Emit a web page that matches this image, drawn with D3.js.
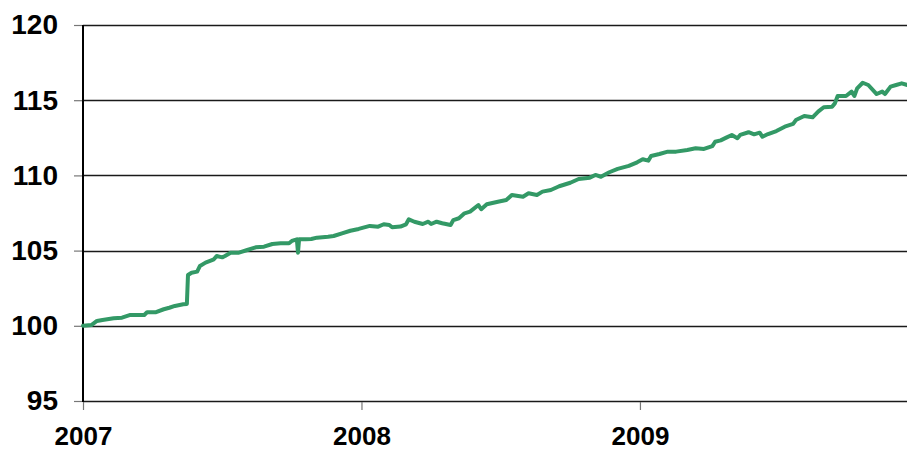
<!DOCTYPE html>
<html>
<head>
<meta charset="utf-8">
<script src="https://cdn.jsdelivr.net/npm/d3@7"></script>
<style>
  body { margin: 0; background: #fff; }
  svg { display: block; font-family: "Liberation Sans", Arial, sans-serif; }
</style>
</head>
<body>
<svg width="907" height="452"></svg>
<script>
// values (fractional year, index level)
var years = [
  2007.00, 2007.03, 2007.05, 2007.07, 2007.11, 2007.14, 2007.17, 2007.22, 2007.23, 2007.26,
  2007.29, 2007.31, 2007.33, 2007.36, 2007.373, 2007.377, 2007.39, 2007.41, 2007.42, 2007.44,
  2007.47, 2007.48, 2007.50, 2007.51, 2007.53, 2007.56, 2007.59, 2007.62, 2007.65, 2007.68,
  2007.71, 2007.74, 2007.75, 2007.768, 2007.772, 2007.776, 2007.80, 2007.82, 2007.84, 2007.88,
  2007.90, 2007.93, 2007.96, 2007.99, 2008.03, 2008.06, 2008.08, 2008.10, 2008.11, 2008.14,
  2008.16, 2008.17, 2008.19, 2008.22, 2008.24, 2008.25, 2008.27, 2008.29, 2008.32, 2008.33,
  2008.35, 2008.37, 2008.39, 2008.42, 2008.43, 2008.45, 2008.49, 2008.52, 2008.54, 2008.58,
  2008.60, 2008.63, 2008.65, 2008.68, 2008.71, 2008.75, 2008.78, 2008.82, 2008.84, 2008.86,
  2008.89, 2008.92, 2008.96, 2008.99, 2009.01, 2009.03, 2009.04, 2009.07, 2009.10, 2009.13,
  2009.17, 2009.20, 2009.23, 2009.26, 2009.27, 2009.29, 2009.31, 2009.33, 2009.35, 2009.36,
  2009.39, 2009.41, 2009.43, 2009.44, 2009.46, 2009.49, 2009.52, 2009.55, 2009.56, 2009.59,
  2009.62, 2009.64, 2009.66, 2009.69, 2009.70, 2009.71, 2009.74, 2009.76, 2009.77, 2009.78,
  2009.80, 2009.82, 2009.85, 2009.87, 2009.88, 2009.90, 2009.92, 2009.94, 2009.96
];
var levels = [
  100.00, 100.05, 100.32, 100.39, 100.50, 100.54, 100.72, 100.72, 100.90, 100.90,
  101.10, 101.20, 101.32, 101.43, 101.45, 103.38, 103.53, 103.60, 103.98, 104.20,
  104.42, 104.64, 104.55, 104.64, 104.86, 104.86, 105.04, 105.22, 105.26, 105.44,
  105.49, 105.49, 105.64, 105.75, 104.86, 105.75, 105.75, 105.77, 105.86, 105.92,
  105.97, 106.15, 106.32, 106.44, 106.64, 106.59, 106.75, 106.70, 106.55, 106.60,
  106.75, 107.08, 106.92, 106.77, 106.92, 106.77, 106.92, 106.82, 106.70, 107.03,
  107.15, 107.48, 107.59, 108.03, 107.75, 108.08, 108.25, 108.36, 108.70, 108.58,
  108.81, 108.70, 108.92, 109.03, 109.28, 109.51, 109.76, 109.85, 110.03, 109.91,
  110.21, 110.43, 110.63, 110.87, 111.07, 110.98, 111.29, 111.42, 111.58, 111.58,
  111.69, 111.80, 111.76, 111.95, 112.24, 112.33, 112.51, 112.69, 112.47, 112.69,
  112.87, 112.73, 112.84, 112.57, 112.75, 112.95, 113.24, 113.42, 113.68, 113.95,
  113.86, 114.24, 114.53, 114.57, 114.79, 115.28, 115.28, 115.57, 115.28, 115.79,
  116.16, 116.01, 115.41, 115.57, 115.41, 115.90, 116.01, 116.12, 116.01
];
var yTicks = [95, 100, 105, 110, 115, 120];
var xTicks = [2007, 2008, 2009];
var xEnd = 2009.959;

var svg = d3.select("svg"),
    plotLeft = 83, plotRight = 907, plotTop = 25, plotBottom = 401;

var x = d3.scaleLinear().domain([2007, xEnd]).range([plotLeft, plotRight]);
var y = d3.scaleLinear().domain([95, 120]).range([plotBottom, plotTop]);

var data = years.map(function (d, i) { return { t: d, v: levels[i] }; });

// horizontal gridlines
svg.append("g")
    .selectAll("line")
    .data(yTicks)
    .enter()
    .append("line")
    .attr("x1", plotLeft)
    .attr("x2", plotRight)
    .attr("y1", function (d) { return Math.round(y(d)) + 0.5; })
    .attr("y2", function (d) { return Math.round(y(d)) + 0.5; })
    .attr("stroke", "#1a1a1a")
    .attr("stroke-width", 1.3);

// y axis
var yAxis = svg.append("g")
    .attr("transform", "translate(" + plotLeft + ",0)")
    .call(d3.axisLeft(y).tickValues(yTicks).tickSize(9).tickPadding(16));
yAxis.select(".domain").remove();
yAxis.selectAll(".tick line").attr("stroke", "#777").attr("stroke-width", 1.2);
yAxis.selectAll(".tick text")
    .attr("font-size", 28)
    .attr("font-weight", "bold")
    .attr("fill", "#000")
    .attr("font-family", "Liberation Sans, Arial, sans-serif");
svg.append("line")
    .attr("x1", plotLeft).attr("x2", plotLeft)
    .attr("y1", plotTop).attr("y2", plotBottom + 1)
    .attr("stroke", "#000")
    .attr("stroke-width", 2);

// x axis
var xAxis = svg.append("g")
    .attr("transform", "translate(0," + (plotBottom + 1) + ")")
    .call(d3.axisBottom(x).tickValues(xTicks).tickFormat(d3.format("d")).tickSize(8).tickPadding(17));
xAxis.select(".domain").remove();
xAxis.selectAll(".tick line").attr("stroke", "#777").attr("stroke-width", 1.2);
xAxis.selectAll(".tick text")
    .attr("font-size", 26)
    .attr("font-weight", "bold")
    .attr("fill", "#000")
    .attr("font-family", "Liberation Sans, Arial, sans-serif");

// the series
var line = d3.line()
    .x(function (d) { return x(d.t); })
    .y(function (d) { return y(d.v); });

svg.append("path")
    .datum(data)
    .attr("d", line)
    .attr("fill", "none")
    .attr("stroke", "#339966")
    .attr("stroke-width", 4)
    .attr("stroke-linejoin", "round")
    .attr("stroke-linecap", "round");
</script>
</body>
</html>
